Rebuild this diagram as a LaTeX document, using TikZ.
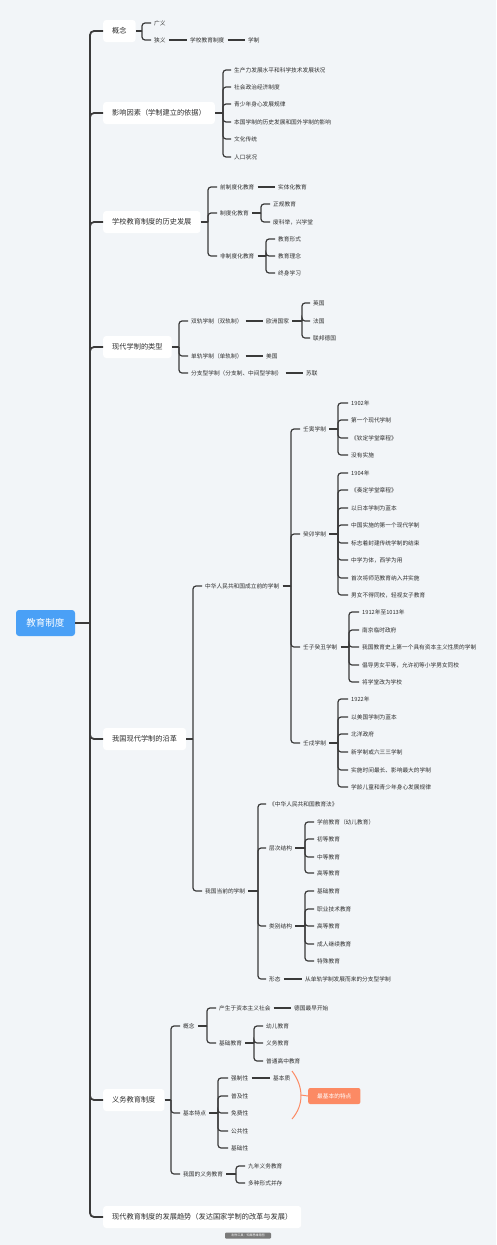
\documentclass[tikz,border=0pt]{standalone}
\usepackage{fontspec}
\setmainfont{Noto Sans CJK SC}
\definecolor{bgc}{HTML}{F2F5F8}
\definecolor{lnc}{HTML}{3A3A3A}
\definecolor{txc}{HTML}{2E2E2E}
\definecolor{rootc}{HTML}{4AA0F6}
\definecolor{orc}{HTML}{FC8A64}
\definecolor{wmc}{HTML}{7A7A7A}
\tikzset{
 leaf/.style={anchor=west,inner xsep=3pt,inner ysep=1pt,text=txc,font=\fontsize{5.7}{6}\selectfont},
 mainbox/.style={anchor=west,fill=white,rounded corners=3pt,inner xsep=9pt,minimum height=22pt,text=txc,font=\fontsize{7.2}{8}\selectfont},
 rootbox/.style={fill=rootc,rounded corners=3pt,minimum width=59pt,minimum height=26pt,text=white,font=\fontsize{9.5}{10}\selectfont},
 obox/.style={anchor=west,fill=orc,rounded corners=2pt,inner xsep=9pt,minimum height=16pt,text=white,font=\fontsize{5.7}{6}\selectfont},
 con/.style={draw=lnc,line width=1.2pt,rounded corners=3pt},
 trunk/.style={draw=lnc,line width=1.8pt,rounded corners=4pt},
 orline/.style={draw=orc,line width=1pt},
}
\newcommand\kids[4]{\foreach \kt/\ky [count=\ki] in {#4}{\node[leaf] (#1\ki) at (#3,\ky) {\kt}; \draw[con] (#2) |- (#1\ki.west);}}
\begin{document}
\begin{tikzpicture}[x=1pt,y=-1pt]
\fill[bgc] (0,0) rectangle (496,1245);
\useasboundingbox (0,0) rectangle (496,1245);
% root
\node[rootbox] (root) at (45.5,623) {教育制度};
\coordinate (tr) at (90,623);
% branch 1
\node[mainbox] (n1) at (103,31) {概念};
\coordinate (b1) at (142,31);
\draw[con] (n1.east) -- (b1);
\kids{k1}{b1}{151}{广义/23,狭义/40}
\node[leaf] (k1b) at (187,40) {学校教育制度};
\node[leaf] (k1c) at (245,40) {学制};
\draw[con] (k12.east) -- (k1b.west);
\draw[con] (k1b.east) -- (k1c.west);
% branch 2
\node[mainbox] (n2) at (103,113) {影响因素（学制建立的依据）};
\coordinate (b2) at (223,113);
\draw[con] (n2.east) -- (b2);
\kids{k2}{b2}{231}{生产力发展水平和科学技术发展状况/70,社会政治经济制度/87,青少年身心发展规律/104,本国学制的历史发展和国外学制的影响/122,文化传统/139,人口状况/157}
% branch 3
\node[mainbox] (n3) at (103,222) {学校教育制度的历史发展};
\coordinate (b3) at (208,222);
\draw[con] (n3.east) -- (b3);
\kids{k3}{b3}{217}{前制度化教育/187,制度化教育/213,非制度化教育/256}
\node[leaf] (k31a) at (275,187) {实体化教育};
\draw[con] (k31.east) -- (k31a.west);
\coordinate (b32) at (261,213); \draw[con] (k32.east) -- (b32);
\kids{k32c}{b32}{270}{正规教育/204,废科举，兴学堂/222}
\coordinate (b33) at (266,256); \draw[con] (k33.east) -- (b33);
\kids{k33c}{b33}{275}{教育形式/239,教育理念/256,终身学习/273}
% branch 4
\node[mainbox] (n4) at (103,347) {现代学制的类型};
\coordinate (b4) at (179,347); \draw[con] (n4.east) -- (b4);
\kids{k4}{b4}{188}{双轨学制（双轨制）/321,单轨学制（单轨制）/356,分支型学制（分支制、中间型学制）/373}
\node[leaf] (k41a) at (263,321) {欧洲国家};
\draw[con] (k41.east) -- (k41a.west);
\coordinate (b41) at (302,321); \draw[con] (k41a.east) -- (b41);
\kids{k41c}{b41}{310}{英国/303,法国/321,联邦德国/338}
\node[leaf] (k42a) at (263,356) {美国}; \draw[con] (k42.east) -- (k42a.west);
\node[leaf] (k43a) at (303,373) {苏联}; \draw[con] (k43.east) -- (k43a.west);
% branch 5
\node[mainbox] (n5) at (103,739) {我国现代学制的沿革};
\coordinate (b5) at (193,739); \draw[con] (n5.east) -- (b5);
\kids{k5}{b5}{202}{中华人民共和国成立前的学制/586,我国当前的学制/891}
\coordinate (b51) at (291,586); \draw[con] (k51.east) -- (b51);
\kids{k51c}{b51}{300}{壬寅学制/429,癸卯学制/534,壬子癸丑学制/647,壬戌学制/743}
\coordinate (b511) at (338,429); \draw[con] (k51c1.east) -- (b511);
\kids{s1}{b511}{348}{1902年/403,第一个现代学制/420,《钦定学堂章程》/438,没有实施/455}
\coordinate (b512) at (338,534); \draw[con] (k51c2.east) -- (b512);
\kids{s2}{b512}{348}{1904年/473,《奏定学堂章程》/490,以日本学制为蓝本/508,中国实施的第一个现代学制/525,标志着封建传统学制的结束/543,中学为体，西学为用/560,首次将师范教育纳入并实施/578,男女不得同校，轻视女子教育/595}
\coordinate (b513) at (349,647); \draw[con] (k51c3.east) -- (b513);
\kids{s3}{b513}{359}{1912年至1013年/612,南京临时政府/630,我国教育史上第一个具有资本主义性质的学制/647,倡导男女平等，允许初等小学男女同校/665,将学堂改为学校/682}
\coordinate (b514) at (338,743); \draw[con] (k51c4.east) -- (b514);
\kids{s4}{b514}{348}{1922年/699,以美国学制为蓝本/717,北洋政府/734,新学制或六三三学制/752,实施时间最长、影响最大的学制/770,学龄儿童和青少年身心发展规律/787}
\coordinate (b52) at (258,891); \draw[con] (k52.east) -- (b52);
\kids{k52c}{b52}{266}{《中华人民共和国教育法》/804,层次结构/848,类别结构/926,形态/979}
\coordinate (b522) at (305,848); \draw[con] (k52c2.east) -- (b522);
\kids{t2}{b522}{314}{学前教育（幼儿教育）/822,初等教育/839,中等教育/857,高等教育/873}
\coordinate (b523) at (305,926); \draw[con] (k52c3.east) -- (b523);
\kids{t3}{b523}{314}{基础教育/891,职业技术教育/909,高等教育/926,成人继续教育/944,特殊教育/961}
\node[leaf] (k52c4a) at (302,979) {从单轨学制发展而来的分支型学制}; \draw[con] (k52c4.east) -- (k52c4a.west);
% branch 6
\node[mainbox] (n6) at (103,1100) {义务教育制度};
\coordinate (b6) at (171,1100); \draw[con] (n6.east) -- (b6);
\kids{k6}{b6}{180}{概念/1026,基本特点/1113,我国的义务教育/1174}
\coordinate (b61) at (207,1026); \draw[con] (k61.east) -- (b61);
\kids{k61c}{b61}{216}{产生于资本主义社会/1008,基础教育/1043}
\node[leaf] (k61c1a) at (291,1008) {德国最早开始}; \draw[con] (k61c1.east) -- (k61c1a.west);
\coordinate (b612) at (254,1043); \draw[con] (k61c2.east) -- (b612);
\kids{u2}{b612}{263}{幼儿教育/1026,义务教育/1043,普通高中教育/1061}
\coordinate (b62) at (218,1113); \draw[con] (k62.east) -- (b62);
\kids{k62c}{b62}{228}{强制性/1078,普及性/1096,免费性/1113,公共性/1131,基础性/1148}
\node[leaf] (k62c1a) at (270,1078) {基本质}; \draw[con] (k62c1.east) -- (k62c1a.west);
\coordinate (b63) at (236,1174); \draw[con] (k63.east) -- (b63);
\kids{k63c}{b63}{245}{九年义务教育/1166,多种形式并存/1183}
% orange callout
\draw[orline] (292,1071) .. controls (304,1087) and (304,1105) .. (292,1119);
\coordinate (arcm) at (301,1095);
\node[obox] (ob) at (308,1096) {最基本的特点};
\draw[orline] (arcm) -- (ob.west);
% branch 7
\node[mainbox] (n7) at (103,1217) {现代教育制度的发展趋势（发达国家学制的改革与发展）};
% trunk
\draw[trunk] (root.east) -- (tr);
\foreach \n in {n1,n2,n3,n4,n5,n6,n7} \draw[trunk] (tr) |- (\n.west);
% watermark
\node[fill=wmc,rounded corners=1pt,text=white,font=\fontsize{3}{3}\selectfont,inner sep=0.5pt,minimum width=46pt,minimum height=6pt] (wm) at (248,1235.5) {制作工具：知犀思维导图};
\end{tikzpicture}
\end{document}
